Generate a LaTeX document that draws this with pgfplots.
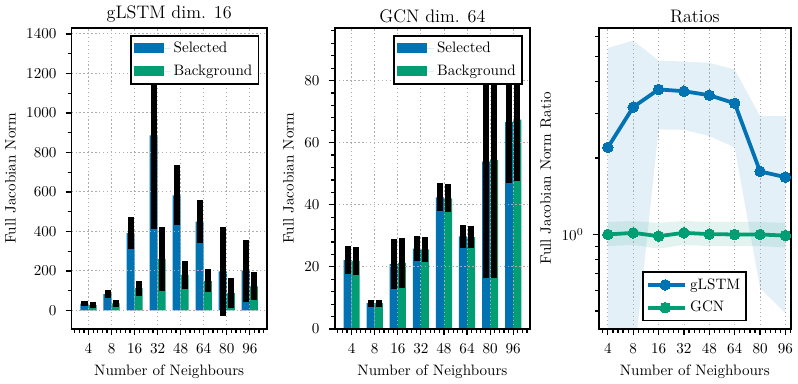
\documentclass[border=0pt]{standalone}
\usepackage{pgfplots}
\usepackage{pgfplotstable}
\pgfplotsset{compat=1.18}
\definecolor{cblue}{HTML}{0173B2}
\definecolor{cgreen}{HTML}{029E73}

\pgfplotstableread{
idx sel selerr bg bgerr
0 34 13 27 16
1 83 22 35 18
2 391 81 113 38
3 886 476 260 160
4 582 152 180 71
5 449 110 150 59
6 198 224 88 78
7 201 158 122 71
}\glstm

\pgfplotstableread{
idx sel selerr bg bgerr
0 22.2 4.6 21.9 4.4
1 8.3 1.1 8.3 1.1
2 20.9 8.0 21.3 8.0
3 25.9 4.0 25.6 3.9
4 42.4 4.5 42.1 4.5
5 29.8 3.6 29.6 3.5
6 53.9 37.4 54.4 37.9
7 66.6 19.6 67.4 19.7
}\gcn

\pgfplotstableread{
idx g c
0 2.20 1.000
1 3.17 1.015
2 3.72 0.985
3 3.66 1.015
4 3.53 1.003
5 3.28 1.000
6 1.77 1.000
7 1.68 0.990
}\ratios

\pgfplotsset{
  layers/mylayers/.define layer set={axis background,bars,axis grid,axis ticks,axis lines,axis tick labels,main,axis descriptions,axis foreground}{
    grid style={/pgfplots/on layer=axis grid},
    tick style={/pgfplots/on layer=axis ticks},
    axis line style={/pgfplots/on layer=axis lines},
    label style={/pgfplots/on layer=axis descriptions},
    legend style={/pgfplots/on layer=axis descriptions},
    title style={/pgfplots/on layer=axis descriptions},
    colorbar style={/pgfplots/on layer=axis descriptions},
    ticklabel style={/pgfplots/on layer=axis tick labels},
    axis background@ style={/pgfplots/on layer=axis background},
    3d box foreground style={/pgfplots/on layer=axis foreground},
  },
  myaxis/.style={
    set layers=mylayers,
    clip mode=individual,
    scale only axis,
    height=199.4pt,
    anchor=south west,
    tick align=outside,
    xtick pos=left, ytick pos=left,
    major tick length=4pt, minor tick length=2.4pt,
    every tick/.style={black, line width=0.8pt},
    axis line style={line width=1.2pt},
    grid=major,
    major grid style={dash pattern=on 0.9pt off 1.7pt, gray!65, line width=0.6pt},
    xtick={0,...,7},
    xticklabels={4,8,16,32,48,64,80,96},
    xlabel={Number of Neighbours},
    xticklabel shift=2pt,
    yticklabel shift=2.5pt,
    xlabel style={yshift=-0.6pt},
    tick label style={font=\fontsize{10}{12}\selectfont},
    label style={font=\fontsize{10}{12}\selectfont},
    title style={font=\fontsize{12}{14}\selectfont, yshift=-6pt},
    /pgf/number format/1000 sep={},
    scaled y ticks=false,
    legend cell align=left,
    legend style={draw=black, line width=1.2pt, font=\fontsize{10}{12}\selectfont,
      fill=white, inner xsep=2pt, inner ysep=2.2pt, row sep=2.6pt,
      nodes={inner sep=2pt}},
  },
  barax/.style={
    myaxis,
    xmin=-0.735, xmax=7.735,
    minor xtick={-0.6,-0.4,...,7.6},
    ylabel={Full Jacobian Norm},
    legend style={at={(1,1)}, anchor=north east, xshift=-4.9pt, yshift=-4.6pt},
  },
  selbar/.style={ybar, bar width=0.35, bar shift=0pt, fill=cblue, draw=none, on layer=bars,
    legend image code/.code={\fill[cblue] (0pt,-3.3pt) rectangle (20pt,3.3pt); \path (0pt,0pt) -- (24.5pt,0pt);}},
  bgbar/.style={ybar, bar width=0.35, bar shift=0pt, fill=cgreen, draw=none, on layer=bars,
    legend image code/.code={\fill[cgreen] (0pt,-3.3pt) rectangle (20pt,3.3pt); \path (0pt,0pt) -- (24.5pt,0pt);}},
  ebar/.style={draw=none, forget plot, error bars/.cd, y dir=both, y explicit, error mark=none,
    error bar style={draw=black, solid, line width=4pt}},
}

\begin{document}
\begin{tikzpicture}

% Panel 1
\begin{axis}[barax, at={(44.7pt,34.2pt)}, width=129.2pt,
  title={gLSTM dim. 16},
  ymin=-94, ymax=1431, ytick={0,200,...,1400}, minor y tick num=1]
\addplot[selbar] table[x expr=\coordindex-0.175, y=sel] {\glstm};
\addlegendentry{Selected}
\addplot[bgbar] table[x expr=\coordindex+0.175, y=bg] {\glstm};
\addlegendentry{Background}
\addplot[ebar] table[x expr=\coordindex-0.175, y=sel, y error=selerr] {\glstm};
\addplot[ebar] table[x expr=\coordindex+0.175, y=bg, y error=bgerr] {\glstm};
\end{axis}

% Panel 2
\begin{axis}[barax, at={(218.9pt,34.2pt)}, width=129.4pt,
  title={GCN dim. 64},
  ymin=0, ymax=97, ytick={0,20,...,80}, minor ytick={0,4,...,96}]
\addplot[selbar] table[x expr=\coordindex-0.175, y=sel] {\gcn};
\addlegendentry{Selected}
\addplot[bgbar] table[x expr=\coordindex+0.175, y=bg] {\gcn};
\addlegendentry{Background}
\addplot[ebar] table[x expr=\coordindex-0.175, y=sel, y error=selerr] {\gcn};
\addplot[ebar] table[x expr=\coordindex+0.175, y=bg, y error=bgerr] {\gcn};
\end{axis}

% Panel 3
\begin{axis}[myaxis, at={(393.7pt,34.2pt)}, width=127.3pt,
  title={Ratios},
  xmin=-0.36, xmax=7.22,
  minor xtick={-0.2,0.2,0.4,...,7.2},
  ymode=log, ymin=0.425, ymax=6.5, ytick={1},
  minor ytick={0.5,0.6,0.7,0.8,0.9,2,3,4,5,6},
  ylabel={Full Jacobian Norm Ratio},
  legend style={at={(0.5,0)}, anchor=south, yshift=5pt},
  legend image code/.code={\draw[mark repeat=2,mark phase=2,line cap=rect,#1] plot coordinates {(1.25pt,0pt)(11.25pt,0pt)(21.25pt,0pt)}; \path (0pt,0pt) -- (24.5pt,0pt);},
]
\addplot[fill=cblue, fill opacity=0.11, draw=none, on layer=bars, forget plot] coordinates {
 (0,5.41)(1,5.79)(2,4.83)(3,4.79)(4,4.73)(5,4.45)(6,2.92)(7,2.92)
 (7,0.49)(6,0.615)(5,2.20)(4,2.44)(3,2.58)(2,2.59)(1,0.30)(0,0.20)} -- cycle;
\addplot[fill=cgreen, fill opacity=0.11, draw=none, on layer=bars, forget plot] coordinates {
 (0,1.12)(1,1.13)(2,1.11)(3,1.13)(4,1.12)(5,1.12)(6,1.12)(7,1.11)
 (7,0.89)(6,0.90)(5,0.90)(4,0.90)(3,0.91)(2,0.88)(1,0.91)(0,0.90)} -- cycle;
\addplot[cblue, line width=2.5pt, mark=*, mark size=3.5pt, mark options={solid, fill=cblue, draw=cblue, line width=0pt}] table[x expr=\coordindex, y=g] {\ratios};
\addlegendentry{gLSTM}
\addplot[cgreen, line width=2.5pt, mark=*, mark size=3.5pt, mark options={solid, fill=cgreen, draw=cgreen, line width=0pt}] table[x expr=\coordindex, y=c] {\ratios};
\addlegendentry{GCN}
\end{axis}
\path (0,0) rectangle (525.1pt,252pt);
\end{tikzpicture}
\end{document}
